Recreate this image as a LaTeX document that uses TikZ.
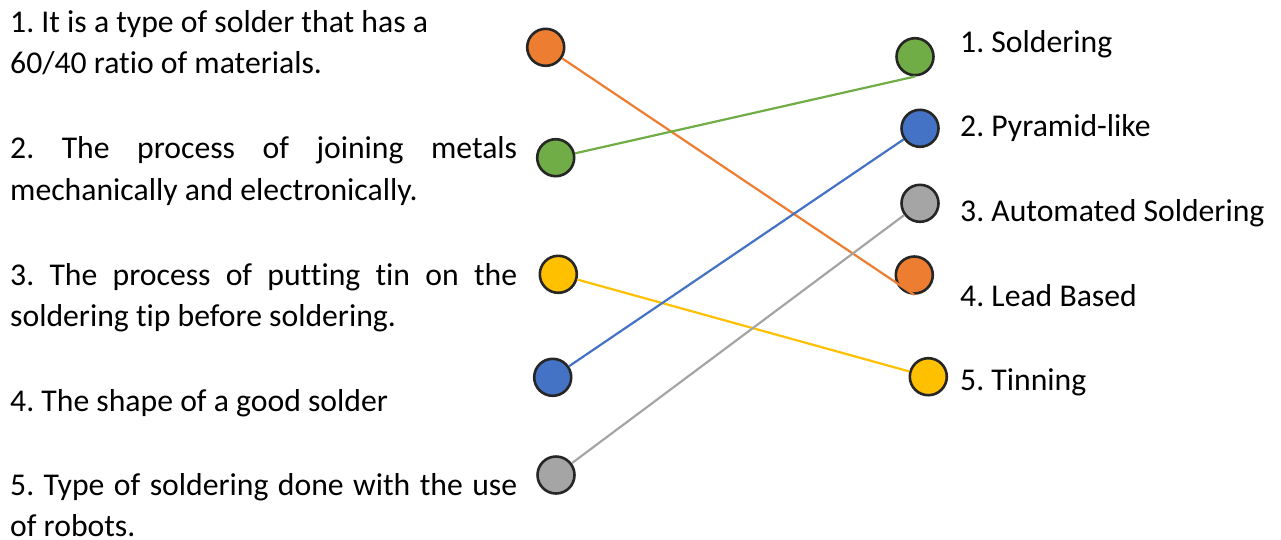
\documentclass[tikz,border=0pt]{standalone}
\usepackage{fontspec}
\setmainfont{Carlito}[Ligatures=NoCommon]
\usepackage{tikz}
\frenchspacing

\definecolor{dorange}{HTML}{ED7D31}
\definecolor{dgreen}{HTML}{70AD47}
\definecolor{dblue}{HTML}{4472C4}
\definecolor{dgray}{HTML}{A5A5A5}
\definecolor{dyellow}{HTML}{FFC000}
\definecolor{rim}{HTML}{262626}

\newcommand{\fullline}[1]{\makebox[507pt][s]{#1}}

\begin{document}
\begin{tikzpicture}[x=1pt,y=-1pt,%
        dot/.style={circle, draw=rim, line width=2.6pt,%
                        inner sep=0pt, minimum size=37pt},
        wire/.style={line width=2.2pt},
        txt/.style={anchor=base west, inner sep=0pt, align=left,%
                        font=\fontsize{31.7}{41.7}\selectfont}]
    \useasboundingbox (0,0) rectangle (1281,539);
    % questions (anchored at the baseline of their last line)
    \node[txt] (q1) at (10,73.7) {1. It is a type of solder that has a\\60/40 ratio of materials.};
    \node[txt] (q2) at (10,200.2) {\fullline{2. The process of joining metals}\\mechanically and electronically.};
    \node[txt] (q3) at (10,326.7) {\fullline{3. The process of putting tin on the}\\soldering tip before soldering.};
    \node[txt] (q4) at (10,411) {4. The shape of a good solder};
    \node[txt] (q5) at (10,536.7) {\fullline{5. Type of soldering done with the use}\\of robots.};
    % answers
    \foreach \i/\y/\t in {1/52.3/Soldering, 2/136.7/Pyramid-like,
                          3/221.7/Automated Soldering, 4/306/Lead Based,
                          5/390.7/Tinning}
        \node[txt] (a\i) at (960,\y) {\i. \t};
    % dots
    \foreach \n/\x/\y/\c in {l1/545.7/47.3/dorange, l2/555.7/157.7/dgreen,
                             l3/558.3/274.3/dyellow, l4/552.7/377.3/dblue,
                             l5/556/475/dgray,
                             r1/915/56.7/dgreen, r2/920/128.3/dblue,
                             r3/920/203.3/dgray, r4/914.3/275/dorange,
                             r5/928.3/376.7/dyellow}
        \node[dot, fill=\c] (\n) at (\x,\y) {};
    % matches
    \draw[wire, dorange] (l1) -- (r4.south);
    \draw[wire, dgreen] (l2) -- (r1.south);
    \draw[wire, dyellow] (l3) -- (r5);
    \draw[wire, dblue] (l4) -- (r2);
    \draw[wire, dgray] (l5) -- (r3);
\end{tikzpicture}
\end{document}
